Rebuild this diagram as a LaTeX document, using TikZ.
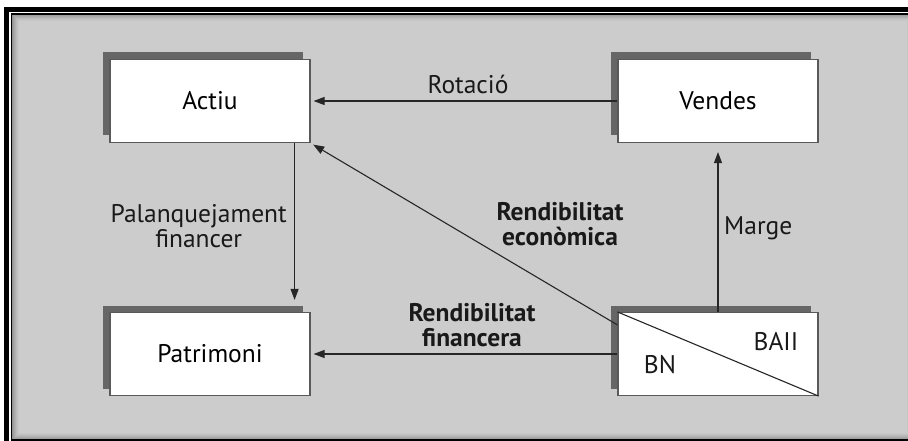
\documentclass[tikz,border=0pt]{standalone}
\usepackage{fontspec}
\setmainfont{PT Sans}
\usetikzlibrary{arrows.meta,positioning,shadows}

\begin{document}
\begin{tikzpicture}[
    x=1pt, y=-1pt,
    font=\fontsize{25.5}{25}\selectfont,
    box/.style={draw=black!65, line width=1.2pt, fill=white, minimum width=200pt, minimum height=83pt, inner sep=0pt,
        drop shadow={shadow xshift=-7pt, shadow yshift=7pt, fill=black!60, opacity=1}},
    lbl/.style={align=center, inner sep=0pt, text=black!90},
    blbl/.style={lbl, font=\fontsize{25.5}{25}\selectfont\bfseries},
    arr/.style={-{Triangle[length=11pt, width=8pt]}, line width=1.1pt, black!85},
]
\useasboundingbox (0,0) rectangle (908,441);
% fons i marc
\fill[white] (0,0) rectangle (908,441);
\fill[black!20] (12,14) rectangle (914,440);
\foreach \i/\c in {0/42,1/38,2/34,3/30,4/27,5/24,6/22} {
  \draw[black!\c, line width=1pt] (12.5+\i,14.5+\i) rectangle (913.5-\i,439.5-\i);
}
\draw[line width=1.5pt] (11.25,14) rectangle (915,440);
\draw[line width=5pt] (6.5,9.5) rectangle (920,446);

% caixes
\node[box] (actiu) at (210,101) {Actiu};
\node[box] (vendes) at (718,101) {Vendes};
\node[box] (patrimoni) at (210,354) {Patrimoni};
\node[box] (bn) at (718,354) {};
\draw[line width=1.1pt, black!85] (bn.north west) -- (bn.south east);
\node[lbl] (baii) at (776,342) {BAII};
\node[lbl] (bnlbl) at (660,365) {BN};

% fletxes
\draw[arr, shorten >=3pt] (vendes) -- (actiu) node[lbl, midway, above=7pt, xshift=4pt] {Rotació};
\draw[arr, shorten >=12pt] ([xshift=-16pt]actiu.south east) -- ([xshift=-16pt]patrimoni.north east);
\node[lbl, anchor=east] (palanq) at (287,226) {Palanquejament\\financer};
\draw[arr, shorten >=3pt] ([yshift=-13pt]bn.north west) -- (actiu.south east);
\node[blbl] (reco) at (560,224) {Rendibilitat\\econòmica};
\draw[arr, shorten >=3pt] (bn) -- (patrimoni);
\node[blbl] (rfin) at (472,325) {Rendibilitat\\financera};
\draw[arr, shorten >=9pt] (bn) -- (vendes);
\node[lbl, anchor=west] (marge) at (724,228) {Marge};
\end{tikzpicture}
\end{document}
